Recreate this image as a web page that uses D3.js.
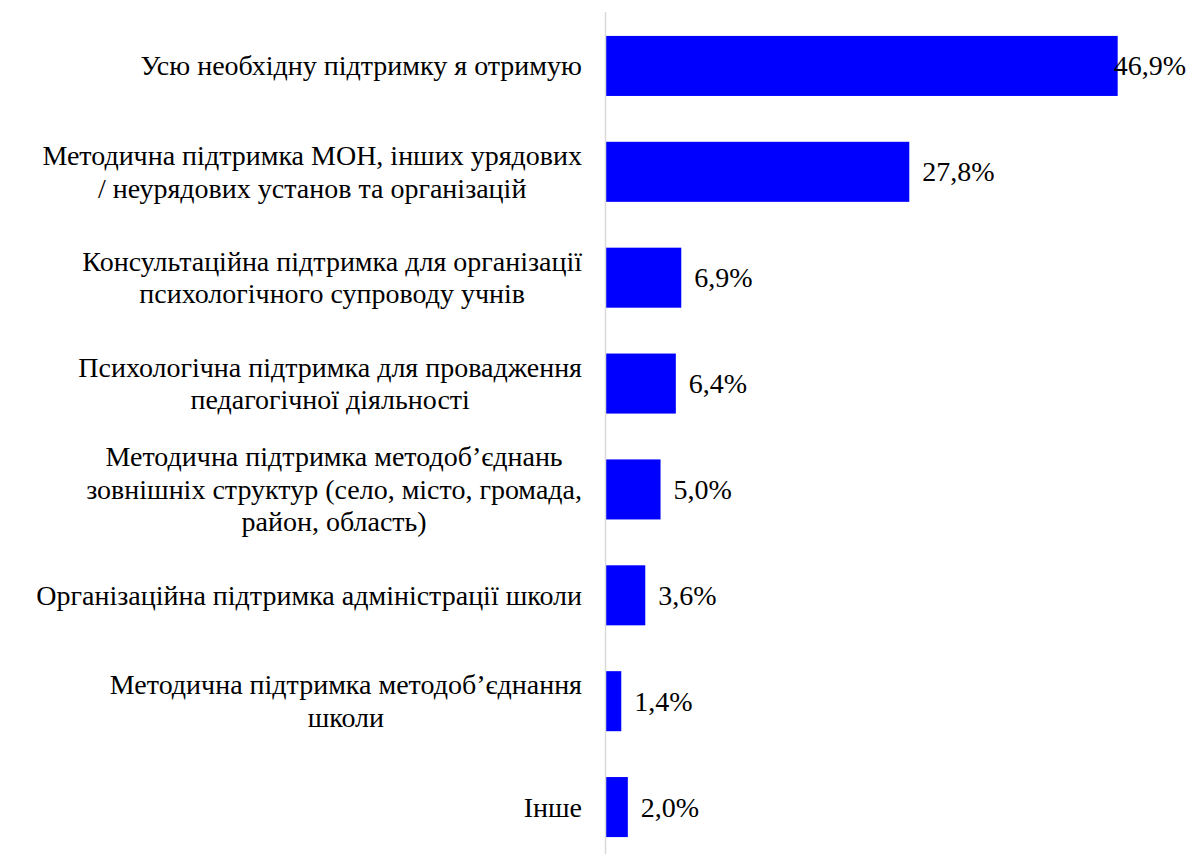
<!DOCTYPE html>
<html>
<head>
<meta charset="utf-8">
<script src="https://cdn.jsdelivr.net/npm/d3@7"></script>
</head>
<body style="margin:0">
<svg id="chart" width="1189" height="854"></svg>
<script>
// categories (line breaks as in the original labels)
var categories = [
  "Усю необхідну підтримку я отримую",
  "Методична підтримка МОН, інших урядових\n/ неурядових установ та організацій",
  "Консультаційна підтримка для організації\nпсихологічного супроводу учнів",
  "Психологічна підтримка для провадження\nпедагогічної діяльності",
  "Методична підтримка методоб’єднань\nзовнішніх структур (село, місто, громада,\nрайон, область)",
  "Організаційна підтримка адміністрації школи",
  "Методична підтримка методоб’єднання\nшколи",
  "Інше"
];
var values = [46.9, 27.8, 6.9, 6.4, 5.0, 3.6, 1.4, 2.0];

var W = 1189, H = 854;
var fontSize = 28, lineH = 32.5;
var fontName = "Times New Roman";
var svg = d3.select("#chart");

var x = d3.scaleLinear().domain([0, 50]).range([606, 1151.5]);
var y = d3.scaleBand().domain(categories).range([13, 860])
  .paddingInner(0.433).paddingOuter(0.2165);

var fmt = function(v) { return d3.format(".1f")(v).replace(".", ",") + "%"; };

// bars
svg.selectAll("rect.bar")
  .data(values)
  .enter().append("rect")
  .attr("class", "bar")
  .attr("x", x(0))
  .attr("y", function(d, i) { return y(categories[i]); })
  .attr("width", function(d) { return x(d) - x(0); })
  .attr("height", y.bandwidth())
  .style("fill", "#0000ff");

// vertical axis line
svg.append("line")
  .attr("x1", 605.5).attr("x2", 605.5)
  .attr("y1", 12).attr("y2", H)
  .style("stroke", "#d9d9d9").style("stroke-width", 1.5);

// value labels (label that would run off the right edge is pulled back inside)
svg.selectAll("text.val")
  .data(values)
  .enter().append("text")
  .attr("class", "val")
  .style("font-family", fontName)
  .style("font-size", fontSize + "px")
  .attr("y", function(d, i) { return y(categories[i]) + y.bandwidth() / 2 + 9.5; })
  .attr("text-anchor", function(d) { return x(d) + 13 + 72 > W ? "end" : "start"; })
  .attr("x", function(d) { return x(d) + 13 + 72 > W ? W - 3 : x(d) + 13; })
  .text(fmt);

// category labels: block right-aligned, lines centred within block
var labelRight = 582;
var groups = [];
categories.forEach(function(c, i) {
  var lines = c.split("\n");
  var texts = svg.append("g").selectAll("text")
    .data(lines)
    .enter().append("text")
    .style("font-family", fontName)
    .style("font-size", fontSize + "px")
    .attr("text-anchor", "end")
    .attr("x", labelRight)
    .attr("y", function(d, k) {
      return y(c) + y.bandwidth() / 2 + 9.5 + (k - (lines.length - 1) / 2) * lineH;
    })
    .text(function(d) { return d; });
  groups.push(texts);
});

// centre lines once the font is in place
function centreLines() {
  groups.forEach(function(texts) {
    var maxW = d3.max(texts.nodes(), function(n) { return n.getComputedTextLength(); });
    texts.attr("text-anchor", "middle").attr("x", labelRight - maxW / 2);
  });
}
if (document.fonts && document.fonts.ready) {
  document.fonts.ready.then(function() { requestAnimationFrame(centreLines); });
} else {
  centreLines();
}
</script>
</body>
</html>
